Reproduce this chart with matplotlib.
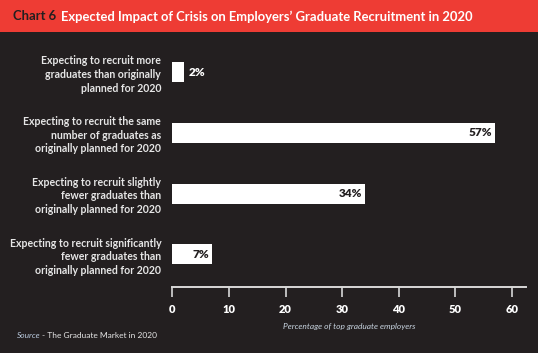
import matplotlib
matplotlib.use("Agg")
import matplotlib.pyplot as plt
from matplotlib.patches import Rectangle

categories = [
    "Expecting to recruit more\ngraduates than originally\nplanned for 2020",
    "Expecting to recruit the same\nnumber of graduates as\noriginally planned for 2020",
    "Expecting to recruit slightly\nfewer graduates than\noriginally planned for 2020",
    "Expecting to recruit significantly\nfewer graduates than\noriginally planned for 2020",
]
values = [2, 57, 34, 7]
value_labels = ["2%", "57%", "34%", "7%"]
xticks = [0, 10, 20, 30, 40, 50, 60]

BG = "#231f20"
RED = "#ee3c34"
FONT = "Lato"

W, H = 538, 353
fig = plt.figure(figsize=(W / 100, H / 100), dpi=100)
fig.patch.set_facecolor(BG)

# title banner
fig.patches.append(Rectangle((0, 1 - 32 / H), 1, 32 / H, transform=fig.transFigure,
                             facecolor=RED, edgecolor="none", zorder=0))
t1 = fig.text(13 / W, 1 - 16.5 / H, "Chart 6", color=BG, fontsize=9.4, fontweight="bold",
              family=FONT, va="center", ha="left")
fig.canvas.draw()
bb = t1.get_window_extent()
fig.text((bb.x1 + 5) / W, 1 - 16.5 / H,
         "Expected Impact of Crisis on Employers\u2019 Graduate Recruitment in 2020",
         color="white", fontsize=9.4, fontweight="bold", family=FONT, va="center", ha="left")

x0_px, xend_px = 172.3, 525.7
px_per_unit = (512 - 172.3) / 60
ax_top_px, ax_bot_px = 40, 287
ax = fig.add_axes([x0_px / W, 1 - ax_bot_px / H, (xend_px - x0_px) / W, (ax_bot_px - ax_top_px) / H])
ax.set_facecolor("none")
ax.set_xlim(0, (xend_px - x0_px) / px_per_unit)
spacing = 60.8
ax.set_ylim((ax_bot_px - 72) / spacing, -(72 - ax_top_px) / spacing)

ypos = list(range(len(categories)))
ax.barh(ypos, values, height=20 / spacing, color="white", edgecolor="none")

for i, (v, lab) in enumerate(zip(values, value_labels)):
    if v < 5:
        ax.text(v + 0.9, i, lab, color="white", fontsize=8.5, fontweight="heavy",
                family=FONT, va="center", ha="left")
    else:
        ax.text(v - 0.5, i, lab, color=BG, fontsize=8.5, fontweight="heavy",
                family=FONT, va="center", ha="right")

ax.set_yticks(ypos)
ax.set_yticklabels(categories, fontsize=7.6, fontweight="bold", family=FONT,
                   color="#e6e6e6", linespacing=1.3)
ax.tick_params(axis="y", length=0, pad=8)

ax.set_xticks(xticks)
ax.set_xticklabels([str(x) for x in xticks], fontsize=8, fontweight="heavy",
                   family=FONT, color="white")
ax.tick_params(axis="x", direction="out", length=7, width=1.2, color="#d8d8d8", pad=5)

for s in ["top", "right", "left"]:
    ax.spines[s].set_visible(False)
ax.spines["bottom"].set_color("#d8d8d8")
ax.spines["bottom"].set_linewidth(1.4)

ax.set_xlabel("Percentage of top graduate employers", fontsize=6, style="italic",
              family=FONT, color="#c8d4e0", labelpad=6)

ts = fig.text(17 / W, 1 - 335 / H, "Source", fontsize=6, style="italic", family=FONT,
              color="#b8c8dc", va="center", ha="left")
fig.canvas.draw()
sb = ts.get_window_extent()
fig.text((sb.x1 + 1.5) / W, 1 - 335 / H, "- The Graduate Market in 2020", fontsize=6, family=FONT,
         color="#e6e6e6", va="center", ha="left")

fig.savefig("out.png", dpi=100, facecolor=BG)
